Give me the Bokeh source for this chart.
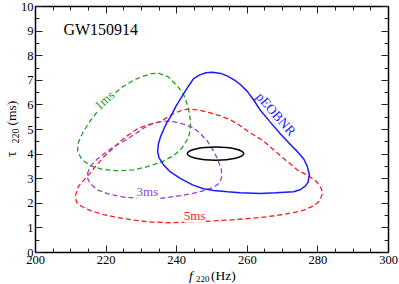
import math
from bokeh.plotting import figure
from bokeh.models import Range1d, LinearAxis, SingleIntervalTicker, Label
from bokeh.embed import file_html
from bokeh.resources import INLINE

# ---------------- data ----------------
green_f = [234.8, 237.5, 240.0, 241.9, 243.3, 243.9, 243.8, 243.3, 241.5, 239.1, 235.4, 231.5,
           227.8, 223.2, 219.0, 215.6, 213.0, 211.9, 212.2, 213.5, 215.5, 217.6, 221.0, 224.9,
           228.0, 230.6, 232.8, 234.8]
green_tau = [7.29, 7.15, 6.80, 6.44, 5.90, 5.34, 4.95, 4.66, 4.25, 3.93, 3.66, 3.48,
             3.36, 3.32, 3.38, 3.52, 3.80, 4.13, 4.50, 4.90, 5.35, 5.75, 6.30, 6.76,
             7.02, 7.17, 7.27, 7.29]

red_f = [211.3, 212.2, 214.7, 217.0, 219.3, 221.8, 224.1, 226.5, 228.9, 232.0, 235.4, 238.5,
         241.0, 243.1, 246.0, 249.0, 252.4, 255.2, 258.0, 261.0, 264.6, 267.4, 270.5, 274.2,
         277.3, 279.5, 281.0, 281.3, 280.5, 278.8, 276.0, 273.1, 268.0, 263.7, 255.0, 246.0,
         238.0, 232.6, 227.5, 223.2, 219.0, 215.6, 213.0, 211.6, 211.3]
red_tau = [2.30, 2.70, 3.10, 3.50, 3.88, 4.22, 4.53, 4.80, 5.03, 5.20, 5.32, 5.60,
           5.76, 5.83, 5.80, 5.70, 5.55, 5.40, 5.15, 4.85, 4.53, 4.18, 3.80, 3.35,
           3.12, 2.90, 2.60, 2.40, 2.10, 1.90, 1.72, 1.62, 1.50, 1.42, 1.32, 1.25,
           1.21, 1.24, 1.32, 1.42, 1.55, 1.70, 1.88, 2.05, 2.30]

purple_f = [214.7, 215.5, 217.5, 219.5, 221.2, 223.5, 226.1, 228.5, 230.6, 233.3, 236.3, 239.0,
            242.0, 244.8, 246.8, 248.7, 250.4, 251.6, 252.6, 252.8, 252.2, 250.5, 247.6, 244.5,
            241.1, 235.4, 230.0, 225.0, 220.4, 217.5, 215.6, 214.8, 214.7]
purple_tau = [3.20, 3.50, 3.80, 4.02, 4.20, 4.40, 4.62, 4.85, 5.05, 5.25, 5.34, 5.32,
              5.22, 5.06, 4.82, 4.53, 4.13, 3.80, 3.40, 3.10, 2.83, 2.65, 2.51, 2.40,
              2.31, 2.20, 2.20, 2.25, 2.39, 2.55, 2.79, 3.00, 3.20]

blue_f = [250.1, 252.5, 254.4, 256.5, 258.1, 260.0, 261.8, 263.7, 266.5, 269.4, 272.0, 274.2,
          276.0, 277.0, 277.6, 277.2, 276.5, 275.0, 273.1, 268.0, 263.7, 258.0, 254.4, 250.5,
          247.6, 244.5, 241.1, 238.0, 236.3, 235.0, 234.6, 234.8, 235.4, 236.3, 237.2, 238.2,
          239.8, 241.9, 243.5, 244.8, 246.5, 248.3, 250.1]
blue_tau = [7.33, 7.28, 7.17, 7.00, 6.82, 6.55, 6.20, 5.78, 5.30, 4.82, 4.42, 4.10,
            3.80, 3.50, 3.15, 2.85, 2.71, 2.55, 2.47, 2.43, 2.40, 2.43, 2.47, 2.52,
            2.59, 2.75, 3.00, 3.30, 3.56, 3.85, 4.10, 4.40, 4.70, 5.00, 5.28, 5.50,
            5.95, 6.44, 6.80, 7.07, 7.22, 7.31, 7.33]

ellipse_f = [251.0]
ellipse_tau = [4.02]
ellipse_w = [16.0]
ellipse_h = [0.54]

# axis extents
x_lo, x_hi = 200, 300
y_lo, y_hi = 0, 10

SERIF = "Liberation Serif"
GREEN = "#1f9e1f"
RED = "#ff1a1a"
PURPLE = "#9440d3"
BLUE = "#1a1aff"

W, H = 399, 284
# canvas pixel where the axes box sits
left_px, right_px, top_px, bottom_px = 35, 388, 6, 252
kx = (right_px - left_px) / (x_hi - x_lo)
ky = (bottom_px - top_px) / (y_hi - y_lo)
xr = Range1d(x_lo - left_px / kx, x_hi + (W - right_px) / kx)
yr = Range1d(y_lo - (H - bottom_px) / ky, y_hi + top_px / ky)

p = figure(width=W, height=H, output_backend="svg", toolbar_location=None,
           x_range=xr, y_range=yr,
           min_border_left=0, min_border_right=0, min_border_top=0, min_border_bottom=0)
p.background_fill_color = "white"
p.border_fill_color = "white"
p.outline_line_color = None
p.xgrid.visible = False
p.ygrid.visible = False

p.add_layout(LinearAxis(), "above")
p.add_layout(LinearAxis(), "right")

def style(ax, show_labels, loc, bounds, standoff=3):
    ax.fixed_location = loc
    ax.bounds = bounds
    ax.axis_line_color = "black"
    ax.axis_line_width = 1.5
    ax.major_tick_in = 7
    ax.major_tick_out = 0
    ax.minor_tick_in = 4
    ax.minor_tick_out = 0
    ax.major_tick_line_color = "#222222"
    ax.minor_tick_line_color = "#222222"
    ax.major_tick_line_width = 1
    ax.minor_tick_line_width = 1
    ax.axis_label = None
    if show_labels:
        ax.major_label_text_font = SERIF
        ax.major_label_text_font_size = "12.5px"
        ax.major_label_text_color = "black"
        ax.major_label_standoff = standoff
    else:
        ax.major_label_text_color = None

for ax in p.xaxis:
    ax.ticker = SingleIntervalTicker(interval=20, num_minor_ticks=4)
for ax in p.yaxis:
    ax.ticker = SingleIntervalTicker(interval=1, num_minor_ticks=2)
style(p.below[0], True, y_lo, (x_lo, x_hi), 3)
style(p.left[0], True, x_lo, (y_lo, y_hi), 2)
style(p.above[0], False, y_hi, (x_lo, x_hi))
style(p.right[0], False, x_hi, (y_lo, y_hi))

# contours
p.line(green_f, green_tau, line_color=GREEN, line_width=1.3, line_dash="5 3")
p.line(red_f, red_tau, line_color=RED, line_width=1.3, line_dash="5 3")
p.line(purple_f, purple_tau, line_color=PURPLE, line_width=1.3, line_dash="5 3")
p.line(blue_f, blue_tau, line_color=BLUE, line_width=1.5)
p.ellipse(x=ellipse_f, y=ellipse_tau, width=ellipse_w, height=ellipse_h,
          fill_color=None, line_color="black", line_width=1.5)

def lab(text, x, y, color="black", size="13px", angle=0.0, align="center", baseline="middle",
        style_="normal", bg=None):
    l = Label(x=x, y=y, text=text, text_color=color, text_font=SERIF, text_font_size=size,
              angle=angle, text_align=align, text_baseline=baseline, text_font_style=style_)
    if bg is not None:
        l.background_fill_color = bg
    p.add_layout(l)

lab("GW150914", 207.9, 9.07, size="16px", align="left")
lab("1ms", 219.5, 6.19, color=GREEN, angle=math.radians(42), bg="white")
lab("pEOBNR", 268.1, 5.63, color=BLUE, size="13.5px", angle=-0.85)
lab("3ms", 231.7, 2.47, color=PURPLE, bg="white")
lab("5ms", 245.1, 1.52, color=RED, bg="white")

# x axis label: f_220 (Hz)
lab("f", 243.5, -0.955, size="13.5px", align="left", baseline="alphabetic", style_="italic")
lab("220", 245.45, -1.06, size="9px", align="left", baseline="alphabetic")
lab("(Hz)", 249.75, -0.955, size="13.5px", align="left", baseline="alphabetic")

# y axis label: tau_220 (ms)
lab("\u03c4", 193.2, 3.88, size="14px", align="left", baseline="alphabetic", angle=math.pi / 2)
lab("220", 194.2, 4.43, size="10px", align="left", baseline="alphabetic", angle=math.pi / 2)
lab("(ms)", 193.2, 5.16, size="13.5px", align="left", baseline="alphabetic", angle=math.pi / 2)

open("out.html", "w").write(file_html(p, INLINE))
